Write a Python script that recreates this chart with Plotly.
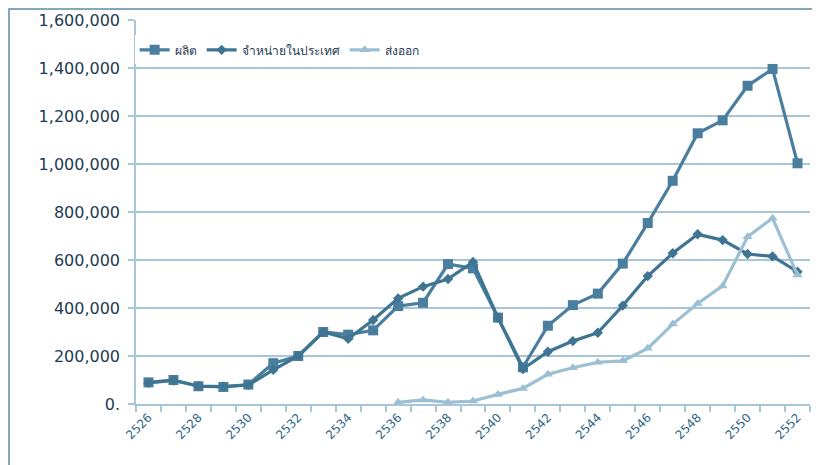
import plotly.graph_objects as go

years = list(range(2526, 2553))
production = [90000, 100000, 74000, 71000, 81000, 170000, 200000, 300000, 289000, 307000,
              408000, 422000, 583000, 565000, 360000, 153000, 326000, 412000, 460000, 585000,
              754000, 930000, 1128000, 1182000, 1326000, 1396000, 1003000]
domestic = [88000, 98000, 75000, 72000, 79000, 142000, 200000, 300000, 272000, 350000,
            440000, 489000, 521000, 592000, 360000, 146000, 218000, 262000, 297000, 410000,
            533000, 628000, 707000, 683000, 625000, 615000, 551000]
export = [None] * 10 + [7000, 17000, 7000, 12500, 40000, 65000, 124000, 151000, 174000, 180000,
                        232000, 333000, 419000, 492000, 697000, 774000, 537000]

names = ["ผลิต", "จำหน่ายในประเทศ", "ส่งออก"]
ytick_vals = [0, 200000, 400000, 600000, 800000, 1000000, 1200000, 1400000, 1600000]
ytick_text = ["0.", "200,000", "400,000", "600,000", "800,000", "1,000,000", "1,200,000", "1,400,000", "1,600,000"]
xtick_vals = list(range(2526, 2553, 2))

c_prod = "#4a7e9f"
c_dom = "#3f7592"
c_exp = "#9dbfd3"
grid = "#a9c6d9"

# plot area in figure px (page body adds 8px offset)
L, T, W, H = 128, 12, 674, 384

fig = go.Figure()
fig.add_trace(go.Scatter(x=years, y=production, name=names[0], mode="lines+markers",
                         line=dict(color=c_prod, width=3.2),
                         marker=dict(symbol="square", size=10, color=c_prod)))
fig.add_trace(go.Scatter(x=years, y=domestic, name=names[1], mode="lines+markers",
                         line=dict(color=c_dom, width=3.2),
                         marker=dict(symbol="diamond", size=8, color=c_dom)))
fig.add_trace(go.Scatter(x=years, y=export, name=names[2], mode="lines+markers",
                         line=dict(color=c_exp, width=3.2),
                         marker=dict(symbol="triangle-up", size=9, color=c_exp)))

fig.update_layout(
    width=820, height=465,
    margin=dict(l=L, r=820 - L - W, t=T, b=465 - T - H),
    paper_bgcolor="white", plot_bgcolor="white",
    showlegend=True,
    legend=dict(orientation="h", x=-0.002, y=0.96, xanchor="left", yanchor="top",
                bgcolor="white", font=dict(family="Noto Sans, DejaVu Sans", size=12, color="#1f3b55"),
                itemwidth=30),
    xaxis=dict(range=[2525.5, 2552.5], tickvals=xtick_vals, ticktext=[str(v) for v in xtick_vals],
               tickangle=-45, tickfont=dict(family="DejaVu Sans", size=12, color="#2d6485"),
               showgrid=False, zeroline=False, showline=True, linecolor=grid, linewidth=1.5,
               ticks="", automargin=False,
               minor=dict(ticks="outside", tick0=2525.5, dtick=1, ticklen=6, tickcolor=grid,
                          tickwidth=1.5, showgrid=False)),
    yaxis=dict(range=[0, 1600000], tickvals=ytick_vals, ticktext=ytick_text,
               tickfont=dict(family="DejaVu Sans", size=16, color="#1f3b55"),
               showgrid=True, gridcolor=grid, gridwidth=1.5, zeroline=False,
               showline=True, linecolor=grid, linewidth=1.5, automargin=False,
               ticks="outside", ticklen=6, tickcolor=grid, tickwidth=1.5,
               ticklabelstandoff=5),
    shapes=[dict(type="rect", xref="paper", yref="paper",
                 x0=(1 - L) / W, x1=(810 - L) / W,
                 y0=-0.3, y1=(T + H - 1) / H,
                 line=dict(color="#5f8cab", width=1.5), layer="below")],
)

fig.write_html("out.html")
